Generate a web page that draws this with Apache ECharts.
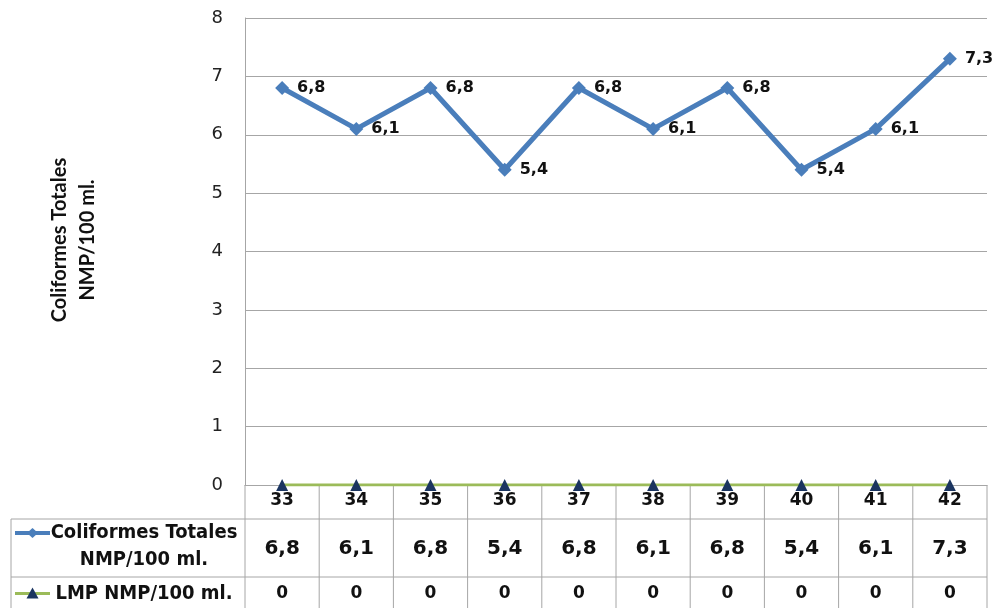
<!DOCTYPE html>
<html>
<head>
<meta charset="utf-8">
<script src="https://cdn.jsdelivr.net/npm/echarts@6/dist/echarts.min.js"></script>
<style>
  html, body { margin: 0; padding: 0; background: #fff; }
  #chart { width: 1000px; height: 608px; }
</style>
</head>
<body>
<div id="chart"></div>
<script>
// Sampling points (x-axis categories)
const categories = ['33', '34', '35', '36', '37', '38', '39', '40', '41', '42'];
// Coliformes Totales NMP/100 ml.
const coliformes = [6.8, 6.1, 6.8, 5.4, 6.8, 6.1, 6.8, 5.4, 6.1, 7.3];
// Límite máximo permisible NMP/100 ml.
const lmp = [0, 0, 0, 0, 0, 0, 0, 0, 0, 0];
// Y-axis ticks
const yTicks = [0, 1, 2, 3, 4, 5, 6, 7, 8];

const seriesNames = ['Coliformes Totales\nNMP/100 ml.', 'LMP NMP/100 ml.'];
const axisTitle = 'Coliformes Totales\nNMP/100 ml.';

const BLUE = '#4a7ebb';
const GREEN = '#9bbb59';
const NAVY = '#1b3560';
const GRID_LINE = '#a6a6a6';
const BOLD = 'DejaVu Sans';
const COND = '"DejaVu Sans Condensed", "DejaVu Sans"';

const fmt = v => String(v).replace('.', ',');

const chart = echarts.init(document.getElementById('chart'), null, { renderer: 'canvas' });

chart.setOption({
  animation: false,
  backgroundColor: '#fff',
  grid: { left: 245, right: 13, top: 18, bottom: 123 },
  xAxis: {
    type: 'category',
    data: categories,
    boundaryGap: true,
    axisLine: { show: true, lineStyle: { color: GRID_LINE, width: 1 } },
    axisTick: { show: false },
    axisLabel: { color: '#111', fontFamily: BOLD, fontWeight: 'bold', fontSize: 17, margin: 7 },
    splitLine: { show: false }
  },
  yAxis: {
    type: 'value',
    min: yTicks[0],
    max: yTicks[yTicks.length - 1],
    interval: 1,
    axisLine: { show: true, lineStyle: { color: GRID_LINE, width: 1 } },
    axisTick: { show: false },
    axisLabel: { color: '#222', fontFamily: 'DejaVu Sans', fontSize: 18, margin: 22 },
    splitLine: { show: true, lineStyle: { color: GRID_LINE, width: 1 } }
  },
  series: [
    {
      name: seriesNames[0],
      type: 'line',
      data: coliformes,
      z: 3,
      lineStyle: { color: BLUE, width: 5 },
      itemStyle: { color: BLUE },
      symbol: 'diamond',
      symbolSize: 14,
      label: {
        show: true,
        position: 'right',
        distance: 8,
        formatter: p => fmt(p.value),
        color: '#111',
        fontFamily: BOLD,
        fontWeight: 'bold',
        fontSize: 16
      }
    },
    {
      name: seriesNames[1],
      type: 'line',
      data: lmp,
      z: 4,
      lineStyle: { color: GREEN, width: 3 },
      itemStyle: { color: NAVY },
      symbol: 'triangle',
      symbolSize: 12
    }
  ]
});

// Data table under the plot, aligned with the category axis
function buildTable() {
  const half = (chart.convertToPixel({ xAxisIndex: 0 }, categories[1]) -
                chart.convertToPixel({ xAxisIndex: 0 }, categories[0])) / 2;
  const centers = categories.map(c => chart.convertToPixel({ xAxisIndex: 0 }, c));
  const plotLeft = centers[0] - half;
  const plotRight = centers[centers.length - 1] + half;
  const top = chart.convertToPixel({ yAxisIndex: 0 }, 0);
  const row1 = top + 34;      // end of category header row
  const row2 = row1 + 58;     // end of Coliformes row
  const bottom = 608;
  const tableLeft = 11;

  const line = (x1, y1, x2, y2, color, w) => ({
    type: 'line', silent: true,
    shape: { x1, y1, x2, y2 },
    style: { stroke: color || GRID_LINE, lineWidth: w || 1 }
  });
  const text = (x, y, s, size, family, align) => ({
    type: 'text', silent: true, x, y,
    style: {
      text: s, fill: '#111', font: 'bold ' + size + 'px ' + family,
      align: align || 'center', verticalAlign: 'middle', lineHeight: 28
    }
  });

  const g = [];
  // horizontal rules
  g.push(line(plotLeft, row1, plotRight, row1));
  g.push(line(tableLeft, row1, plotLeft, row1));
  g.push(line(tableLeft, row2, plotRight, row2));
  // vertical rules
  g.push(line(plotLeft, top, plotLeft, bottom));
  g.push(line(tableLeft, row1, tableLeft, bottom));
  for (let i = 1; i <= categories.length; i++) {
    const x = plotLeft + i * 2 * half;
    g.push(line(x, top, x, bottom));
  }
  // cell values
  centers.forEach((cx, i) => {
    g.push(text(cx, (row1 + row2) / 2 + 1, fmt(coliformes[i]), 20, BOLD));
    g.push(text(cx, (row2 + bottom) / 2 + 1, fmt(lmp[i]), 17, BOLD));
  });
  // row headers with legend keys
  const keyX1 = 15, keyX2 = 50;
  const labelCx = 144;
  const y1a = row1 + 14, y1b = row1 + 41;
  g.push(line(keyX1, y1a, keyX2, y1a, BLUE, 4));
  g.push({
    type: 'polygon', silent: true,
    shape: { points: [[32.5, y1a - 5], [38, y1a], [32.5, y1a + 5], [27, y1a]] },
    style: { fill: BLUE }
  });
  const [l1, l2] = seriesNames[0].split('\n');
  g.push(text(labelCx, y1a, l1, 20, COND));
  g.push(text(labelCx, y1b, l2, 20, COND));
  const y2 = (row2 + bottom) / 2 + 1;
  g.push(line(keyX1, y2, keyX2, y2, GREEN, 3));
  g.push({
    type: 'polygon', silent: true,
    shape: { points: [[32.5, y2 - 6], [38.5, y2 + 5], [26.5, y2 + 5]] },
    style: { fill: NAVY }
  });
  g.push(text(labelCx, y2, seriesNames[1], 20, COND));
  // vertical axis title
  g.push({
    type: 'text', silent: true, x: 74, y: 240, rotation: Math.PI / 2,
    style: {
      text: axisTitle, fill: '#111', font: 'bold 20px Lato',
      align: 'center', verticalAlign: 'middle', lineHeight: 28
    }
  });
  chart.setOption({ graphic: g });
}
buildTable();
</script>
</body>
</html>
